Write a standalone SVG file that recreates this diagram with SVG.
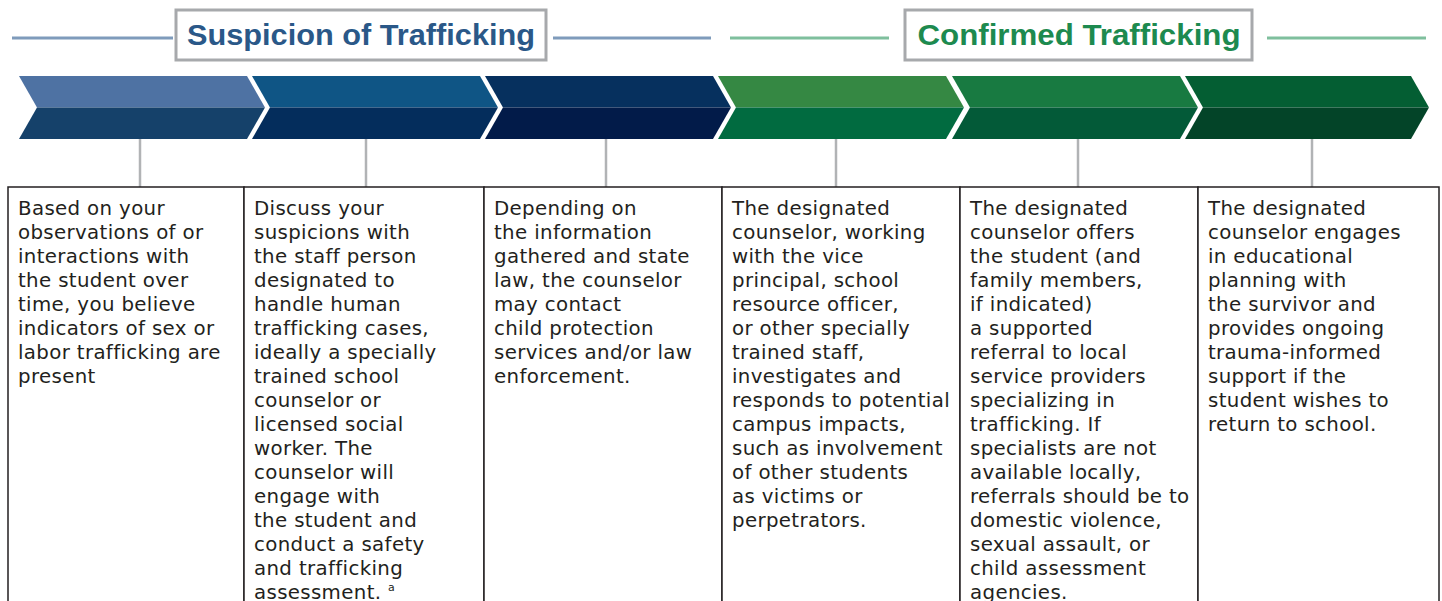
<svg xmlns="http://www.w3.org/2000/svg" width="1442" height="601" viewBox="0 0 1442 601">
<style>
.hdrbox{fill:#fff;stroke:#a7a9ac;stroke-width:3}
.hdr{font-family:"Liberation Sans",Arial,sans-serif;font-weight:bold;font-size:29px;text-anchor:middle}
.box{fill:#fff;stroke:#231f20;stroke-width:1.5}
.t{font-family:"DejaVu Sans","Liberation Sans",sans-serif;font-size:19.8px;letter-spacing:0.35px;fill:#231f20}
.conn{stroke:#b1b3b5;stroke-width:2.5;fill:none}
</style>
<rect width="1442" height="601" fill="#fff"/>
<g id="header-suspicion">
<line x1="12" y1="38" x2="173" y2="38" stroke="#7f9bbb" stroke-width="3"/>
<line x1="553" y1="38" x2="711" y2="38" stroke="#7f9bbb" stroke-width="3"/>
<rect class="hdrbox" x="176" y="10" width="370" height="50"/>
<text class="hdr" x="361" y="45" fill="#2a5888" textLength="348" lengthAdjust="spacingAndGlyphs">Suspicion of Trafficking</text>
</g>
<g id="header-confirmed">
<line x1="730" y1="38" x2="889" y2="38" stroke="#7fbf9d" stroke-width="3"/>
<line x1="1267" y1="38" x2="1426" y2="38" stroke="#7fbf9d" stroke-width="3"/>
<rect class="hdrbox" x="905" y="10" width="347" height="50"/>
<text class="hdr" x="1079" y="45" fill="#1d8a4f" textLength="323" lengthAdjust="spacingAndGlyphs">Confirmed Trafficking</text>
</g>
<g id="connectors">
<line class="conn" x1="140" y1="139" x2="140" y2="187"/>
<line class="conn" x1="366" y1="139" x2="366" y2="187"/>
<line class="conn" x1="606" y1="139" x2="606" y2="187"/>
<line class="conn" x1="836" y1="139" x2="836" y2="187"/>
<line class="conn" x1="1078" y1="139" x2="1078" y2="187"/>
<line class="conn" x1="1312" y1="139" x2="1312" y2="187"/>
</g>
<g id="step1">
<polygon points="19,76 247,76 265,107.5 37,107.5" fill="#4e72a3"/>
<polygon points="37,107.5 265,107.5 247,139 19,139" fill="#15416a"/>
<rect class="box" x="8" y="187" width="236" height="430"/>
<text class="t" x="18" y="215"><tspan x="18">Based on your</tspan><tspan x="18" dy="24">observations of or</tspan><tspan x="18" dy="24">interactions with</tspan><tspan x="18" dy="24">the student over</tspan><tspan x="18" dy="24">time, you believe</tspan><tspan x="18" dy="24">indicators of sex or</tspan><tspan x="18" dy="24">labor trafficking are</tspan><tspan x="18" dy="24">present</tspan></text>
</g>
<g id="step2">
<polygon points="252,76 480,76 498,107.5 270,107.5" fill="#0f5585"/>
<polygon points="270,107.5 498,107.5 480,139 252,139" fill="#042d5c"/>
<rect class="box" x="244" y="187" width="240" height="430"/>
<text class="t" x="254" y="215"><tspan x="254">Discuss your</tspan><tspan x="254" dy="24">suspicions with</tspan><tspan x="254" dy="24">the staff person</tspan><tspan x="254" dy="24">designated to</tspan><tspan x="254" dy="24">handle human</tspan><tspan x="254" dy="24">trafficking cases,</tspan><tspan x="254" dy="24">ideally a specially</tspan><tspan x="254" dy="24">trained school</tspan><tspan x="254" dy="24">counselor or</tspan><tspan x="254" dy="24">licensed social</tspan><tspan x="254" dy="24">worker. The</tspan><tspan x="254" dy="24">counselor will</tspan><tspan x="254" dy="24">engage with</tspan><tspan x="254" dy="24">the student and</tspan><tspan x="254" dy="24">conduct a safety</tspan><tspan x="254" dy="24">and trafficking</tspan><tspan x="254" dy="24">assessment. <tspan font-size="11" dy="-8">a</tspan></tspan></text>
</g>
<g id="step3">
<polygon points="485,76 713,76 731,107.5 503,107.5" fill="#06305e"/>
<polygon points="503,107.5 731,107.5 713,139 485,139" fill="#021b49"/>
<rect class="box" x="484" y="187" width="238" height="430"/>
<text class="t" x="494" y="215"><tspan x="494">Depending on</tspan><tspan x="494" dy="24">the information</tspan><tspan x="494" dy="24">gathered and state</tspan><tspan x="494" dy="24">law, the counselor</tspan><tspan x="494" dy="24">may contact</tspan><tspan x="494" dy="24">child protection</tspan><tspan x="494" dy="24">services and/or law</tspan><tspan x="494" dy="24">enforcement.</tspan></text>
</g>
<g id="step4">
<polygon points="718,76 946,76 964,107.5 736,107.5" fill="#358843"/>
<polygon points="736,107.5 964,107.5 946,139 718,139" fill="#016b40"/>
<rect class="box" x="722" y="187" width="238" height="430"/>
<text class="t" x="732" y="215"><tspan x="732">The designated</tspan><tspan x="732" dy="24">counselor, working</tspan><tspan x="732" dy="24">with the vice</tspan><tspan x="732" dy="24">principal, school</tspan><tspan x="732" dy="24">resource officer,</tspan><tspan x="732" dy="24">or other specially</tspan><tspan x="732" dy="24">trained staff,</tspan><tspan x="732" dy="24">investigates and</tspan><tspan x="732" dy="24">responds to potential</tspan><tspan x="732" dy="24">campus impacts,</tspan><tspan x="732" dy="24">such as involvement</tspan><tspan x="732" dy="24">of other students</tspan><tspan x="732" dy="24">as victims or</tspan><tspan x="732" dy="24">perpetrators.</tspan></text>
</g>
<g id="step5">
<polygon points="952,76 1180,76 1198,107.5 970,107.5" fill="#187a41"/>
<polygon points="970,107.5 1198,107.5 1180,139 952,139" fill="#035a38"/>
<rect class="box" x="960" y="187" width="238" height="430"/>
<text class="t" x="970" y="215"><tspan x="970">The designated</tspan><tspan x="970" dy="24">counselor offers</tspan><tspan x="970" dy="24">the student (and</tspan><tspan x="970" dy="24">family members,</tspan><tspan x="970" dy="24">if indicated)</tspan><tspan x="970" dy="24">a supported</tspan><tspan x="970" dy="24">referral to local</tspan><tspan x="970" dy="24">service providers</tspan><tspan x="970" dy="24">specializing in</tspan><tspan x="970" dy="24">trafficking. If</tspan><tspan x="970" dy="24">specialists are not</tspan><tspan x="970" dy="24">available locally,</tspan><tspan x="970" dy="24">referrals should be to</tspan><tspan x="970" dy="24">domestic violence,</tspan><tspan x="970" dy="24">sexual assault, or</tspan><tspan x="970" dy="24">child assessment</tspan><tspan x="970" dy="24">agencies.</tspan></text>
</g>
<g id="step6">
<polygon points="1185,76 1411,76 1429,107.5 1203,107.5" fill="#045e33"/>
<polygon points="1203,107.5 1429,107.5 1411,139 1185,139" fill="#034428"/>
<rect class="box" x="1198" y="187" width="241" height="430"/>
<text class="t" x="1208" y="215"><tspan x="1208">The designated</tspan><tspan x="1208" dy="24">counselor engages</tspan><tspan x="1208" dy="24">in educational</tspan><tspan x="1208" dy="24">planning with</tspan><tspan x="1208" dy="24">the survivor and</tspan><tspan x="1208" dy="24">provides ongoing</tspan><tspan x="1208" dy="24">trauma-informed</tspan><tspan x="1208" dy="24">support if the</tspan><tspan x="1208" dy="24">student wishes to</tspan><tspan x="1208" dy="24">return to school.</tspan></text>
</g>
</svg>
